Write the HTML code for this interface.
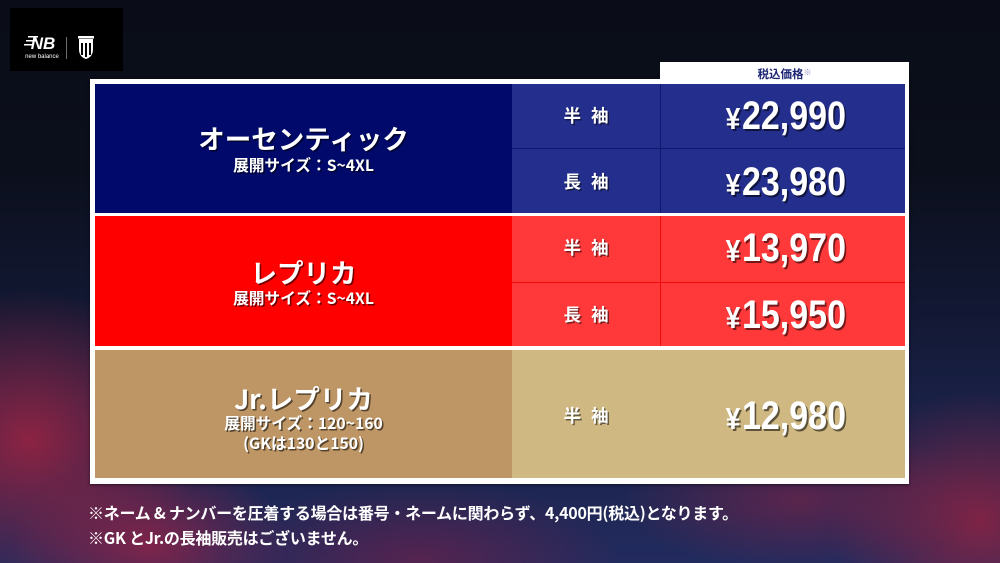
<!DOCTYPE html>
<html><head><meta charset="utf-8">
<style>
*{margin:0;padding:0;box-sizing:border-box}
html,body{width:1000px;height:563px;overflow:hidden}
body{position:relative;font-family:"Liberation Sans","Noto Sans CJK JP",sans-serif;
background:
radial-gradient(ellipse 170px 150px at 30px 440px, rgba(160,35,65,0.85), rgba(160,35,65,0) 100%),
radial-gradient(ellipse 140px 90px at 150px 545px, rgba(150,35,70,0.8), rgba(150,35,70,0) 100%),
radial-gradient(ellipse 200px 80px at 420px 560px, rgba(120,30,70,0.6), rgba(120,30,70,0) 100%),
radial-gradient(ellipse 150px 130px at 980px 520px, rgba(150,35,65,0.8), rgba(150,35,65,0) 100%),
radial-gradient(ellipse 180px 70px at 800px 500px, rgba(140,35,70,0.55), rgba(140,35,70,0) 100%),
linear-gradient(180deg,#0a0d17 0%,#0b0f1c 30%,#121833 55%,#1a2249 75%,#222b5e 100%);}
.abs{position:absolute}
.logo{left:10px;top:8px;width:113px;height:63px;background:#000}
.frame{left:90px;top:79px;width:819px;height:405px;background:#fff;box-shadow:0 1px 3px rgba(0,0,0,.5)}
.tab{left:660px;top:62px;width:249px;height:24px;background:#fff;text-align:center;font-family:"Noto Sans CJK JP",sans-serif;font-weight:700;font-size:11.5px;color:#1c2575;line-height:22px}
.tab small{font-size:8px;color:#8a90b8;vertical-align:3px}
.cell{position:absolute}
.t{position:absolute;left:95px;width:417px;text-align:center;color:#fff;font-family:"Noto Sans CJK JP",sans-serif;font-weight:700;text-shadow:1.5px 1.5px 0 rgba(0,0,0,.55);white-space:nowrap}
.title{font-size:26.5px;height:30px;line-height:30px}
.sub{font-size:15.7px;height:18px;line-height:18px}
.sl{position:absolute;left:512px;width:148px;text-align:center;color:#fff;font-family:"Noto Sans CJK JP",sans-serif;font-weight:700;font-size:17.5px;letter-spacing:10px;padding-left:10px;height:24px;line-height:24px;text-shadow:1.5px 1.5px 0 rgba(0,0,0,.5)}
.pr{position:absolute;left:663px;width:245px;height:44px;display:flex;justify-content:center;align-items:center}
.pr span.in{display:inline-block;transform:scaleX(.85);color:#fff;font-family:"Liberation Sans",sans-serif;font-weight:700;font-size:40px;line-height:44px;white-space:nowrap;text-shadow:2px 2px 0 rgba(0,0,0,.55)}
.pr .yen{font-size:31px;margin-right:2px}
.note{left:88px;color:#fff;font-family:"Noto Sans CJK JP",sans-serif;font-weight:700;font-size:16px;white-space:nowrap;height:22px;line-height:22px;letter-spacing:-0.25px}
</style></head><body>

<div class="abs logo">
  <svg width="113" height="63" viewBox="0 0 113 63">
    <g fill="#fff">
      <text x="33" y="41" font-family="Liberation Sans" font-weight="700" font-style="italic" font-size="17" text-anchor="middle">NB</text>
      <rect x="18" y="28" width="10" height="1.5"/><rect x="16" y="32" width="10" height="1.5"/><rect x="14" y="36" width="10" height="1.5"/>
      <text x="32" y="50" font-family="Liberation Sans" font-size="6" text-anchor="middle">new balance</text>
      <rect x="56" y="29" width="0.8" height="22" fill="#888"/>
      <path d="M69 31 h14 v10 q0 8 -7 10 q-7 -2 -7 -10z" fill="#fff"/>
      <path d="M71 35 h2 v12 h-2z M75 35 h2 v14 h-2z M79 35 h2 v12 h-2z" fill="#000"/>
      <rect x="68" y="28" width="16" height="2.5"/>
    </g>
  </svg>
</div>

<div class="abs frame"></div>
<div class="abs tab">税込価格<small>※</small></div>

<!-- blue row -->
<div class="cell" style="left:95px;top:84px;width:417px;height:129px;background:#010a6a"></div>
<div class="cell" style="left:512px;top:84px;width:393px;height:129px;background:#242f8d"></div>
<div class="cell" style="left:512px;top:148px;width:393px;height:1px;background:#0c176f"></div>
<div class="cell" style="left:660px;top:84px;width:1px;height:129px;background:#0c176f"></div>

<!-- red row -->
<div class="cell" style="left:95px;top:216px;width:417px;height:130px;background:#ff0000"></div>
<div class="cell" style="left:512px;top:216px;width:393px;height:130px;background:#ff383a"></div>
<div class="cell" style="left:512px;top:282px;width:393px;height:1px;background:#f30a0a"></div>
<div class="cell" style="left:660px;top:216px;width:1px;height:130px;background:#f30a0a"></div>

<!-- gold row -->
<div class="cell" style="left:95px;top:350px;width:417px;height:128px;background:#be9565"></div>
<div class="cell" style="left:512px;top:350px;width:393px;height:128px;background:#cfb881"></div>

<!-- left labels -->
<div class="t title" style="top:123px">オーセンティック</div>
<div class="t sub" style="top:156px">展開サイズ：S~4XL</div>

<div class="t title" style="top:257px">レプリカ</div>
<div class="t sub" style="top:289px">展開サイズ：S~4XL</div>

<div class="t title" style="top:383px">Jr.レプリカ</div>
<div class="t sub" style="top:414px">展開サイズ：120~160</div>
<div class="t sub" style="top:434px">(GKは130と150)</div>

<!-- sleeve labels -->
<div class="sl" style="top:104px">半袖</div>
<div class="sl" style="top:170px">長袖</div>
<div class="sl" style="top:236px">半袖</div>
<div class="sl" style="top:303px">長袖</div>
<div class="sl" style="top:404px">半袖</div>

<!-- prices -->
<div class="pr" style="top:95px"><span class="in"><span class="yen">¥</span>22,990</span></div>
<div class="pr" style="top:161px"><span class="in"><span class="yen">¥</span>23,980</span></div>
<div class="pr" style="top:227px"><span class="in"><span class="yen">¥</span>13,970</span></div>
<div class="pr" style="top:294px"><span class="in"><span class="yen">¥</span>15,950</span></div>
<div class="pr" style="top:395px"><span class="in"><span class="yen">¥</span>12,980</span></div>

<!-- notes -->
<div class="abs note" style="top:501px">※ネーム &amp; ナンバーを圧着する場合は番号・ネームに関わらず、4,400円(税込)となります。</div>
<div class="abs note" style="top:526px">※GK とJr.の長袖販売はございません。</div>

</body></html>
